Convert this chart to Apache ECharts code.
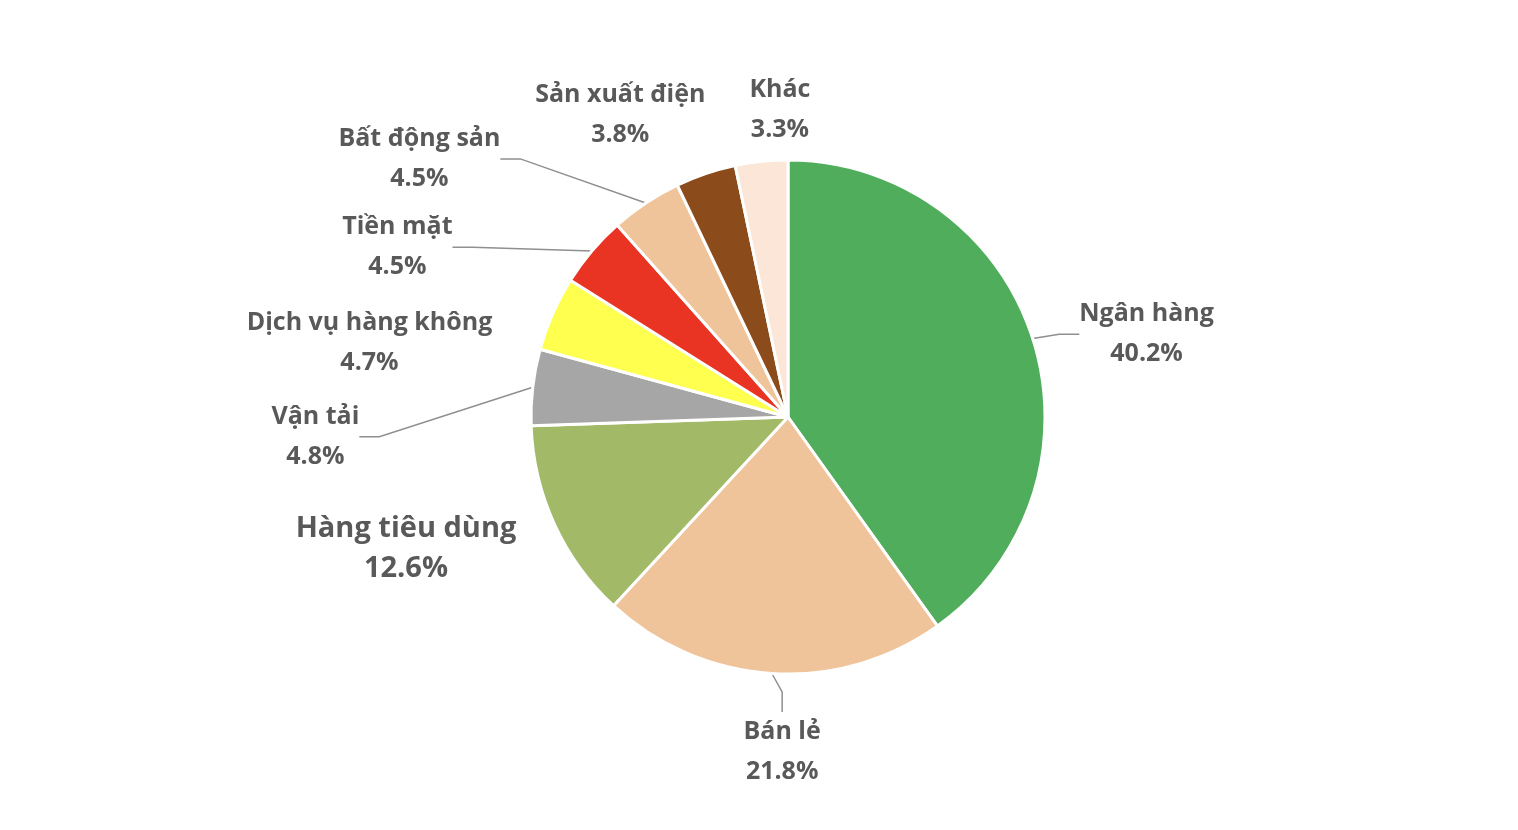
<!DOCTYPE html>
<html>
<head>
    <meta charset="utf-8">
    <title>ECharts</title>
    <script src="https://cdn.jsdelivr.net/npm/echarts@6/dist/echarts.min.js"></script>
    <style>
        html, body { margin: 0; padding: 0; background: #fff; }
    </style>
</head>
<body>
<div id="main" style="width: 1518px;height:830px;"></div>
<script type="text/javascript">
    // du lieu
    var categories = ['Ngân hàng', 'Bán lẻ', 'Hàng tiêu dùng', 'Vận tải', 'Dịch vụ hàng không',
        'Tiền mặt', 'Bất động sản', 'Sản xuất điện', 'Khác'];
    var values = [40.2, 21.8, 12.6, 4.8, 4.7, 4.5, 4.5, 3.8, 3.3];
    var colors = ['#4fad5b', '#f0c49b', '#a2ba68', '#a6a6a6', '#ffff4f',
        '#e93323', '#f0c49b', '#8b4b1a', '#fbe6d8'];

    // vi tri nhan: [goc (do, tinh tu dinh theo chieu kim dong ho), ban kinh]
    var labelSpots = [[77, 368], [181, 335], [251, 404], [267.6, 473], [280, 425],
        [293.5, 426], [305, 450], [331, 346], [358.5, 307]];
    var showLine = [true, true, false, true, false, true, true, false, false];

    var cx = 788, cy = 417;

    var data = categories.map(function (name, i) {
        return {
            name: name,
            value: values[i],
            itemStyle: { color: colors[i] },
            label: { fontSize: i === 2 ? 29 : 25 },
            labelLine: { show: showLine[i] }
        };
    });

    var myChart = echarts.init(document.getElementById('main'));

    myChart.setOption({
        animation: false,
        series: [{
            type: 'pie',
            center: [cx, cy],
            radius: 257,
            startAngle: 90,
            clockwise: true,
            itemStyle: { borderColor: '#fff', borderWidth: 3 },
            label: {
                show: true,
                position: 'outside',
                formatter: function (p) {
                    return p.name + '\n' + p.value.toFixed(1) + '%';
                },
                color: '#595959',
                fontFamily: 'Open Sans',
                fontWeight: 'bold',
                lineHeight: 40,
                align: 'center'
            },
            labelLine: {
                show: true,
                length: 20,
                length2: 20,
                lineStyle: { color: '#8f8f8f', width: 1.5 }
            },
            labelLayout: function (params) {
                var s = labelSpots[params.dataIndex];
                var a = s[0] * Math.PI / 180;
                return {
                    x: cx + s[1] * Math.sin(a),
                    y: cy - s[1] * Math.cos(a),
                    align: 'center',
                    verticalAlign: 'middle'
                };
            },
            data: data
        }]
    });
</script>
</body>
</html>
